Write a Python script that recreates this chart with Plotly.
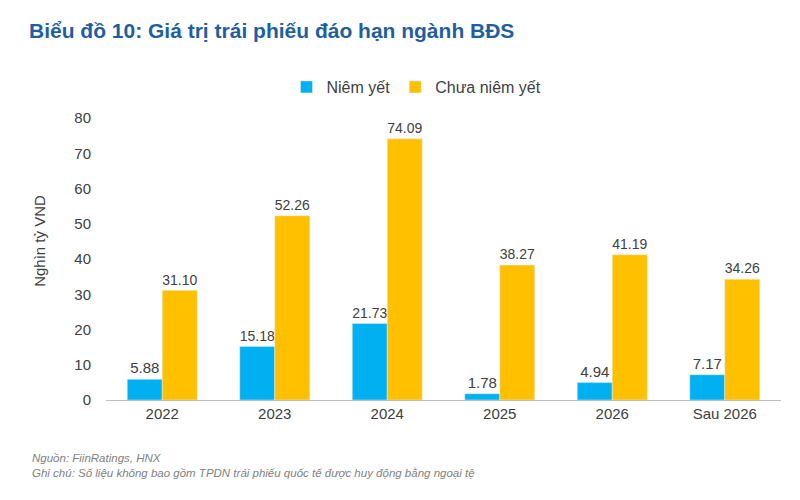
import plotly.graph_objects as go

categories = ["2022", "2023", "2024", "2025", "2026", "Sau 2026"]
niem_yet = [5.88, 15.18, 21.73, 1.78, 4.94, 7.17]
chua_niem_yet = [31.10, 52.26, 74.09, 38.27, 41.19, 34.26]
y_ticks = [0, 10, 20, 30, 40, 50, 60, 70, 80]

FONT = "Liberation Sans, Arial, sans-serif"
TXT = "#404040"
fig = go.Figure()
fig.add_trace(go.Bar(
    name="Niêm yết", x=categories, y=niem_yet,
    marker_color="#00B0F0",
    text=[f"{v:.2f}" for v in niem_yet], textposition="outside",
    textfont=dict(size=15, color=TXT), cliponaxis=False,
))
fig.add_trace(go.Bar(
    name="Chưa niêm yết", x=categories, y=chua_niem_yet,
    marker_color="#FFC000",
    text=[f"{v:.2f}" for v in chua_niem_yet], textposition="outside",
    textfont=dict(size=15, color=TXT), cliponaxis=False,
))

fig.update_layout(
    width=800, height=500,
    paper_bgcolor="white", plot_bgcolor="white",
    font=dict(family=FONT, color=TXT, size=15),
    margin=dict(l=98, r=27, t=110, b=108, autoexpand=False),
    barmode="group", bargap=0.378, bargroupgap=0,
    showlegend=True,
    legend=dict(orientation="h", x=0.46, xanchor="center", y=1.11, yanchor="middle",
                font=dict(size=16, color=TXT), itemwidth=30,
                traceorder="normal"),
    xaxis=dict(showgrid=False, showline=True, linecolor="#BFBFBF", linewidth=1,
               ticks="", tickfont=dict(size=15, color=TXT)),
    yaxis=dict(range=[0, 80], tickvals=y_ticks, showgrid=False, zeroline=False,
               showline=False, ticks="", ticklabelstandoff=14,
               tickfont=dict(size=15, color=TXT)),
)

fig.add_annotation(text="Nghìn tỷ VND", textangle=-90,
                   xref="paper", yref="paper", x=-0.099, y=0.565, xanchor="center", yanchor="middle",
                   showarrow=False, font=dict(size=15, color=TXT, family=FONT))
fig.add_annotation(text="<b>Biểu đồ 10: Giá trị trái phiếu đáo hạn ngành BĐS</b>",
                   xref="paper", yref="paper", x=-0.117, y=1.312, xanchor="left", yanchor="middle",
                   showarrow=False, font=dict(size=21, color="#1F5FA0", family=FONT))
fig.add_annotation(text="<i>Nguồn: FiinRatings, HNX</i>",
                   xref="paper", yref="paper", x=-0.113, y=-0.205, xanchor="left", yanchor="middle",
                   showarrow=False, font=dict(size=11.5, color="#7F7F7F", family=FONT))
fig.add_annotation(text="<i>Ghi chú: Số liệu không bao gồm TPDN trái phiếu quốc tế được huy động bằng ngoại tệ</i>",
                   xref="paper", yref="paper", x=-0.113, y=-0.258, xanchor="left", yanchor="middle",
                   showarrow=False, font=dict(size=11.5, color="#7F7F7F", family=FONT))

fig.write_html("out.html")
